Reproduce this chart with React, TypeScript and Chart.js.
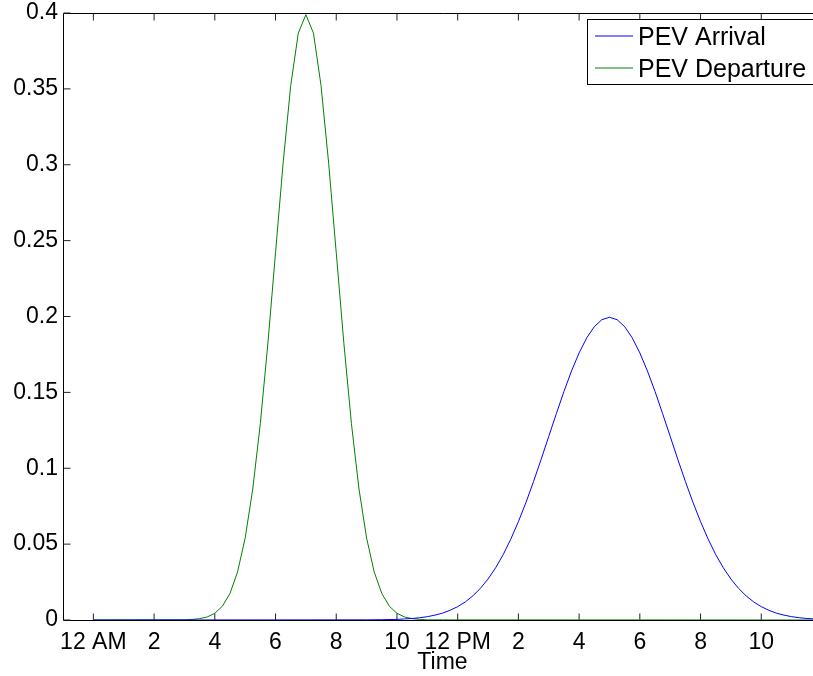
import React, { useEffect, useRef } from 'react';
import { Chart, registerables } from 'chart.js';

Chart.register(...registerables);

const seriesNames = ['PEV Arrival', 'PEV Departure'];
const seriesColors = ['#0000ff', '#008000'];

const arrivalHours = [
  0, 9, 9.5, 10, 10.25, 10.5, 10.75, 11, 11.25, 11.5, 11.75, 12, 12.25, 12.5, 12.75,
  13, 13.25, 13.5, 13.75, 14, 14.25, 14.5, 14.75, 15, 15.25, 15.5, 15.75, 16, 16.25,
  16.5, 16.75, 17, 17.25, 17.5, 17.75, 18, 18.25, 18.5, 18.75, 19, 19.25, 19.5, 19.75,
  20, 20.25, 20.5, 20.75, 21, 21.25, 21.5, 21.75, 22, 22.25, 22.5, 22.75, 23, 23.25,
  23.5, 23.75,
];
const arrivalValues = [
  0, 0.0001, 0.0002, 0.0004, 0.0007, 0.001, 0.0015, 0.0022, 0.0032, 0.0045, 0.0064,
  0.0088, 0.0119, 0.0159, 0.0209, 0.027, 0.0344, 0.0431, 0.0533, 0.0648, 0.0775, 0.0913,
  0.1059, 0.121, 0.136, 0.1506, 0.1641, 0.176, 0.1859, 0.1933, 0.1979, 0.1995, 0.1979,
  0.1933, 0.1859, 0.176, 0.1641, 0.1506, 0.136, 0.121, 0.1059, 0.0913, 0.0775, 0.0648,
  0.0533, 0.0431, 0.0344, 0.027, 0.0209, 0.0159, 0.0119, 0.0088, 0.0064, 0.0045, 0.0032,
  0.0022, 0.0015, 0.001, 0.0007,
];

const departureHours = [
  0, 3, 3.25, 3.5, 3.75, 4, 4.25, 4.5, 4.75, 5, 5.25, 5.5, 5.75, 6, 6.25, 6.5, 6.75, 7,
  7.25, 7.5, 7.75, 8, 8.25, 8.5, 8.75, 9, 9.25, 9.5, 9.75, 10, 10.25, 10.5, 10.75, 11,
  23.75,
];
const departureValues = [
  0, 0.0001, 0.0004, 0.0009, 0.002, 0.0044, 0.0091, 0.0175, 0.0317, 0.054, 0.0863,
  0.1295, 0.1826, 0.242, 0.3011, 0.3521, 0.3867, 0.3989, 0.3867, 0.3521, 0.3011, 0.242,
  0.1826, 0.1295, 0.0863, 0.054, 0.0317, 0.0175, 0.0091, 0.0044, 0.002, 0.0009, 0.0004,
  0.0001, 0,
];

const xTickValues = [0, 2, 4, 6, 8, 10, 12, 14, 16, 18, 20, 22];
const xTickLabels = ['12 AM', '2', '4', '6', '8', '10', '12 PM', '2', '4', '6', '8', '10'];
const yTickValues = [0, 0.05, 0.1, 0.15, 0.2, 0.25, 0.3, 0.35, 0.4];
const yTickLabels = ['0', '0.05', '0.1', '0.15', '0.2', '0.25', '0.3', '0.35', '0.4'];

const FONT = '"Liberation Sans", Arial, Helvetica, sans-serif';

const axesPlugin = {
  id: 'matlabAxes',
  beforeDatasetsDraw(chart: any) {
    const { ctx, chartArea, scales } = chart;
    const left = Math.round(chartArea.left) + 0.5;
    const top = Math.round(chartArea.top) + 0.5;
    const bottom = Math.round(chartArea.bottom) + 0.5;
    const right = chart.width + 20;
    ctx.save();
    ctx.strokeStyle = '#000';
    ctx.lineWidth = 1;
    ctx.beginPath();
    ctx.moveTo(left, top);
    ctx.lineTo(right, top);
    ctx.moveTo(left, top);
    ctx.lineTo(left, bottom);
    ctx.lineTo(right, bottom);
    ctx.stroke();
    ctx.strokeStyle = '#222';
    ctx.beginPath();
    const tl = 7;
    xTickValues.forEach((v) => {
      const px = scales.x.getPixelForValue(v);
      ctx.moveTo(px, bottom);
      ctx.lineTo(px, bottom - tl);
      ctx.moveTo(px, top);
      ctx.lineTo(px, top + tl);
    });
    yTickValues.forEach((v) => {
      const py = scales.y.getPixelForValue(v);
      ctx.moveTo(left, py);
      ctx.lineTo(left + tl, py);
    });
    ctx.stroke();
    ctx.restore();
  },
};

const legendPlugin = {
  id: 'matlabLegend',
  afterDraw(chart: any) {
    const { ctx } = chart;
    const bx = 587.5;
    const by = 19.5;
    const bw = 240;
    const bh = 65;
    ctx.save();
    ctx.fillStyle = '#fff';
    ctx.fillRect(bx, by, bw, bh);
    ctx.strokeStyle = '#000';
    ctx.lineWidth = 1;
    ctx.strokeRect(bx, by, bw, bh);
    ctx.font = `25px ${FONT}`;
    ctx.textAlign = 'left';
    ctx.textBaseline = 'alphabetic';
    seriesNames.forEach((name, i) => {
      const ly = 36 + i * 32;
      ctx.strokeStyle = seriesColors[i];
      ctx.beginPath();
      ctx.moveTo(595, ly);
      ctx.lineTo(633, ly);
      ctx.stroke();
      ctx.fillStyle = '#000';
      ctx.fillText(name, 638, 45 + i * 32);
    });
    ctx.restore();
  },
};

export default function App() {
  const canvasRef = useRef<HTMLCanvasElement | null>(null);

  useEffect(() => {
    if (!canvasRef.current) return;
    Chart.defaults.color = '#000';
    Chart.defaults.font.family = FONT;
    const chart = new Chart(canvasRef.current, {
      type: 'line',
      data: {
        datasets: [
          {
            label: seriesNames[0],
            data: arrivalHours.map((h, i) => ({ x: h, y: arrivalValues[i] })),
            borderColor: seriesColors[0],
            borderWidth: 1,
            pointRadius: 0,
            tension: 0,
            fill: false,
          },
          {
            label: seriesNames[1],
            data: departureHours.map((h, i) => ({ x: h, y: departureValues[i] })),
            borderColor: seriesColors[1],
            borderWidth: 1,
            pointRadius: 0,
            tension: 0,
            fill: false,
          },
        ],
      },
      options: {
        animation: false,
        responsive: false,
        events: [],
        layout: { padding: { top: 13, left: 0, right: 0, bottom: 0 } },
        plugins: {
          legend: { display: false },
          tooltip: { enabled: false },
          title: { display: false },
        },
        scales: {
          x: {
            type: 'linear',
            min: -1,
            max: 24,
            grid: { display: false, drawTicks: false },
            border: { display: false },
            afterBuildTicks: (s: any) => {
              s.ticks = xTickValues.map((v) => ({ value: v }));
            },
            afterFit: (s: any) => {
              s.height = 56;
              s.paddingLeft = 0;
              s.paddingRight = 0;
            },
            ticks: {
              autoSkip: false,
              maxRotation: 0,
              padding: 9,
              font: { size: 23 },
              color: '#000',
              callback: (v: any) => {
                const i = xTickValues.indexOf(Number(v));
                return i >= 0 ? xTickLabels[i] : '';
              },
            },
            title: {
              display: true,
              text: 'Time',
              color: '#000',
              font: { size: 23, lineHeight: 1.2 },
              padding: { top: 0, bottom: 0 },
            },
          },
          y: {
            type: 'linear',
            min: 0,
            max: 0.4,
            grid: { display: false, drawTicks: false },
            border: { display: false },
            afterBuildTicks: (s: any) => {
              s.ticks = yTickValues.map((v) => ({ value: v }));
            },
            afterFit: (s: any) => {
              s.width = 63;
              s.paddingTop = 0;
              s.paddingBottom = 0;
            },
            ticks: {
              padding: 5,
              font: { size: 23 },
              color: '#000',
              callback: (v: any) => {
                const i = yTickValues.findIndex((t) => Math.abs(t - Number(v)) < 1e-9);
                return i >= 0 ? yTickLabels[i] : '';
              },
            },
          },
        },
      },
      plugins: [axesPlugin, legendPlugin],
    });
    return () => chart.destroy();
  }, []);

  return (
    <div
      style={{
        position: 'absolute',
        left: 0,
        top: 0,
        width: 813,
        height: 676,
        overflow: 'hidden',
        background: '#fff',
      }}
    >
      <canvas ref={canvasRef} width={822} height={676} style={{ display: 'block' }} />
    </div>
  );
}
